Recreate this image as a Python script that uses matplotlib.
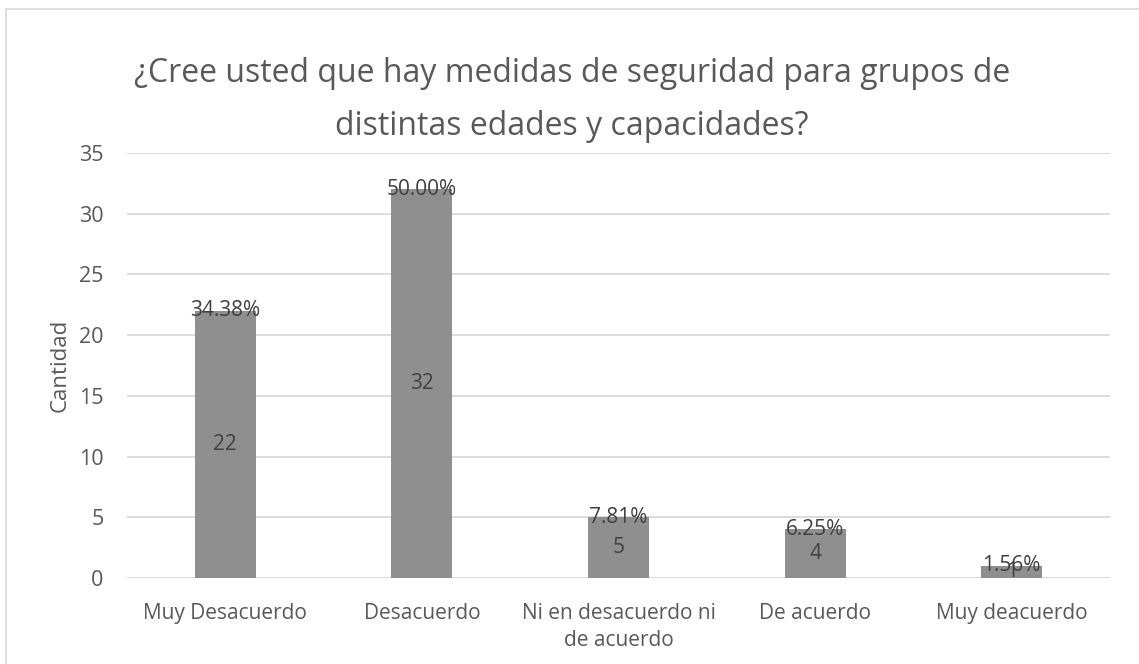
import matplotlib
matplotlib.use('Agg')
import matplotlib.pyplot as plt
from matplotlib.patches import Rectangle

# fuente parecida a Calibri
plt.rcParams['font.family'] = ['Open Sans', 'DejaVu Sans']

categorias = ['Muy Desacuerdo', 'Desacuerdo', 'Ni en desacuerdo ni\nde acuerdo', 'De acuerdo', 'Muy deacuerdo']
cantidades = [22, 32, 5, 4, 1]
porcentajes = ['34.38%', '50.00%', '7.81%', '6.25%', '1.56%']
yticks = [0, 5, 10, 15, 20, 25, 30, 35]

gris_txt = '#595959'

fig = plt.figure(figsize=(11.39, 6.64), dpi=100)
# marco del grafico
fig.patches.append(Rectangle((6 / 1139, -0.1), 1.2, 1 - 9 / 664 + 0.1, transform=fig.transFigure,
                             fill=False, edgecolor='#d9d9d9', linewidth=1.2))

ax = fig.add_axes([127 / 1139, 1 - 578 / 664, (1110 - 127) / 1139, (578 - 153) / 664])
x = range(len(categorias))
ax.bar(x, cantidades, width=0.31, color='#8f8f8f', zorder=2)

for i, (c, p) in enumerate(zip(cantidades, porcentajes)):
    ax.text(i, c / 2, str(c), ha='center', va='center', fontsize=15, color='#404040', zorder=3)
    ax.text(i, c, p, ha='center', va='center', fontsize=15, color='#404040', zorder=3)

ax.set_xlim(-0.5, 4.5)
ax.set_ylim(0, 35)
ax.set_yticks(yticks)
ax.set_xticks(list(x))
ax.set_xticklabels(categorias, fontsize=15, color=gris_txt, linespacing=1.4)
ax.tick_params(axis='y', labelsize=15.5, labelcolor=gris_txt, length=0, pad=17)
ax.tick_params(axis='x', length=0, pad=18)
ax.grid(axis='y', color='#d9d9d9', linewidth=1.3, zorder=0)
for s in ax.spines.values():
    s.set_visible(False)
ax.set_ylabel('Cantidad', fontsize=16, color=gris_txt, labelpad=6)

fig.text(0.502, 1 - 100 / 664, '¿Cree usted que hay medidas de seguridad para grupos de\ndistintas edades y capacidades?',
         ha='center', va='center', fontsize=23, color=gris_txt, linespacing=1.8)

fig.savefig('out.png', dpi=100)
